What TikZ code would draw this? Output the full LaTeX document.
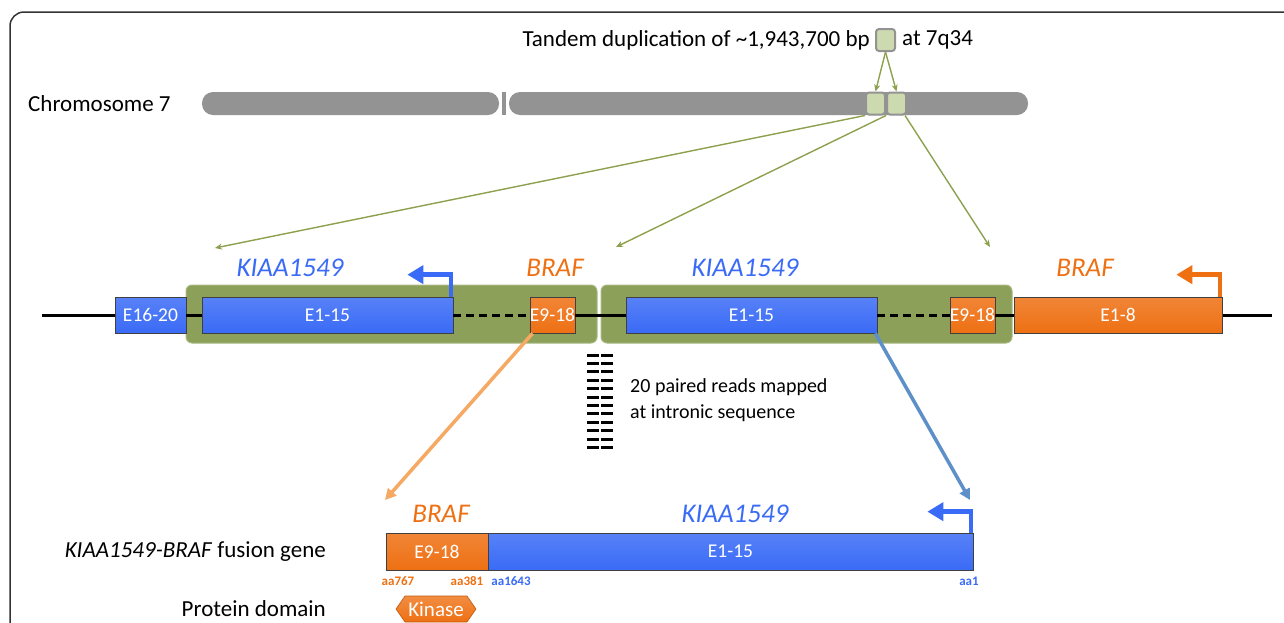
\documentclass[tikz,border=0pt]{standalone}
\usepackage{fontspec}
\setmainfont{Carlito}
\usetikzlibrary{arrows.meta}

\definecolor{geneblue}{HTML}{3A6BF6}
\definecolor{geneorange}{HTML}{EE7013}
\definecolor{dupgreen}{HTML}{8DA05A}
\definecolor{lightgreen}{HTML}{CDDAAF}
\definecolor{chromgray}{HTML}{939393}
\definecolor{arrowgreen}{HTML}{8CA04E}
\definecolor{fadeorange}{HTML}{F5A962}
\definecolor{fadeblue}{HTML}{5D90C8}

\tikzset{
  exon/.style={draw=black!75, line width=0.7pt, minimum height=36pt, inner sep=0pt,
    text=white, font=\fontsize{19.5}{19.5}\selectfont},
  bluex/.style={exon, top color=geneblue!85!white, bottom color=geneblue},
  orangex/.style={exon, top color=geneorange!85!white, bottom color=geneorange},
  dupbox/.style={fill=dupgreen, draw=dupgreen!75!white, line width=1pt,
    rounded corners=6pt, minimum height=58pt, inner sep=0pt},
  band/.style={fill=lightgreen, draw=gray!85, line width=2pt, rounded corners=3pt,
    minimum width=19pt, minimum height=22pt, inner sep=0pt},
  arm/.style={fill=chromgray, rounded corners=11pt},
  maintext/.style={font=\fontsize{23}{26}\selectfont, inner sep=0pt},
  readtext/.style={font=\fontsize{20}{24}\selectfont, inner sep=0pt, align=left},
  bluelabel/.style={font=\fontsize{27}{30}\selectfont\itshape, text=geneblue, inner sep=0pt},
  orangelabel/.style={font=\fontsize{27}{30}\selectfont\itshape, text=geneorange, inner sep=0pt},
  aablue/.style={font=\fontsize{13}{13}\selectfont\bfseries, text=geneblue, inner sep=0pt},
  aaorange/.style={font=\fontsize{13}{13}\selectfont\bfseries, text=geneorange, inner sep=0pt},
  greenarrow/.style={draw=arrowgreen, line width=1.4pt, -{Stealth[length=7pt, width=6pt]}},
  bigarrow/.style={line width=3.5pt, -{Triangle[length=11pt, width=11pt]}},
  bentarrow/.style={line width=4.5pt, -{Triangle[length=16pt, width=18pt]}},
  readpair/.style={line width=3pt, black},
  trackline/.style={line width=3pt, black},
}

\begin{document}
\begin{tikzpicture}[x=1pt, y=-1pt]
  \useasboundingbox (0,0) rectangle (1284,622);
  \clip (0,0) rectangle (1284,622);

  % outer frame
  \draw[line width=1.5pt, black!80, rounded corners=14pt] (10,640) |- (1300,12);

  % chromosome 7 ideogram
  \node[maintext, anchor=west] (chrlabel) at (28,104) {Chromosome 7};
  \fill[arm] (202,92) rectangle (499,115);
  \fill[chromgray] (502,92) rectangle (506,115);
  \fill[arm] (509,92) rectangle (1028,115);
  \node[band] (c1) at (875.5,103.5) {};
  \node[band] (c2) at (896.5,103.5) {};

  % duplication legend
  \node[band] (lg) at (885.5,40) {};
  \node[maintext, anchor=east] (duptext) at ([xshift=-5pt]lg.west) {Tandem duplication of \textasciitilde 1,943,700 bp};
  \node[maintext, anchor=west] (bandtext) at ([xshift=6pt]lg.east) {at 7q34};
  \draw[greenarrow] (lg.south) -- (c1.north);
  \draw[greenarrow] (lg.south) -- (c2.north);

  % gene track
  \coordinate (trackL) at (42,315);
  \coordinate (trackR) at (1272,315);
  \draw[trackline] (trackL) -- (trackR);

  \node[dupbox, minimum width=411pt] (gA) at (391.5,314) {};
  \node[dupbox, minimum width=411pt] (gB) at (806.5,314) {};

  \node[bluex, minimum width=71pt] (e1620) at (150.5,315) {E16-20};
  \node[bluex, minimum width=251pt] (k1) at (327.5,315) {E1-15};
  \node[orangex, minimum width=45pt] (b1) at (552.5,315) {E9-18};
  \node[bluex, minimum width=251pt] (k2) at (751.5,315) {E1-15};
  \node[orangex, minimum width=45pt] (b2) at (972.5,315) {E9-18};
  \node[orangex, minimum width=208pt] (b3) at (1118,315) {E1-8};

  \draw[trackline] (e1620.east) -- (k1.west);
  \draw[trackline, dash pattern=on 8pt off 5pt] (k1.east) -- (b1.west);
  \draw[trackline] (b1.east) -- (k2.west);
  \draw[trackline, dash pattern=on 8pt off 5pt] (k2.east) -- (b2.west);
  \draw[trackline] (b2.east) -- (b3.west);

  \node[bluelabel] (lk1) at (290,268) {KIAA1549};
  \node[orangelabel] (lb1) at (555,268) {BRAF};
  \node[bluelabel] (lk2) at (745,268) {KIAA1549};
  \node[orangelabel] (lb2) at (1085,268) {BRAF};

  \draw[bentarrow, geneblue] ([xshift=-2.5pt]k1.north east) |- ([xshift=-46pt, yshift=22pt]k1.north east);
  \draw[bentarrow, geneorange] ([xshift=-2.5pt]b3.north east) |- ([xshift=-46pt, yshift=22pt]b3.north east);

  % duplicated segment mapped onto the track
  \coordinate (t1) at (215,248);
  \coordinate (t2) at (616,247);
  \coordinate (t3) at (990,247);
  \draw[greenarrow] (c1.south west) -- (t1);
  \draw[greenarrow] (c1.south east) -- (t2);
  \draw[greenarrow] ([xshift=-2pt]c2.south east) -- (t3);

  % paired reads at the breakpoint
  \foreach \i in {0,...,11} {
    \draw[readpair] (587,355+\i*8.4) -- (599,355+\i*8.4);
    \draw[readpair] (601,355+\i*8.4) -- (613,355+\i*8.4);
  }
  \node[readtext, anchor=west] (reads) at (630,400) {20 paired reads mapped\\[2pt]at intronic sequence};

  % fusion gene
  \node[orangex, minimum width=102pt, minimum height=37pt] (fb) at (437,551.5) {E9-18};
  \node[bluex, minimum width=485pt, minimum height=37pt] (fk) at (730.5,551.5) {E1-15};
  \node[orangelabel] (lfb) at (441,514) {BRAF};
  \node[bluelabel] (lfk) at (735,514) {KIAA1549};
  \draw[bentarrow, geneblue] ([xshift=-2.5pt]fk.north east) |- ([xshift=-46pt, yshift=21pt]fk.north east);

  \coordinate (fuseL) at (385,500);
  \coordinate (fuseR) at (970,500);
  \draw[bigarrow, fadeorange] ([xshift=3pt]b1.south west) -- (fuseL);
  \draw[bigarrow, fadeblue] ([xshift=-2pt]k2.south east) -- (fuseR);

  \node[aaorange] (aa767) at (398,581) {aa767};
  \node[aaorange] (aa381) at (467,581) {aa381};
  \node[aablue] (aa1643) at (511,581) {aa1643};
  \node[aablue] (aa1) at (969,581) {aa1};

  \node[maintext, anchor=east] (fuslabel) at (326,552) {\textit{KIAA1549-BRAF} fusion gene};
  \node[maintext, anchor=east] (domlabel) at (326,609) {Protein domain};

  % kinase domain
  \shade[top color=geneorange!80!white, bottom color=geneorange, draw=geneorange!80!black, line width=0.6pt]
    (396,609) -- (405,596) -- (467,596) -- (476,609) -- (467,622) -- (405,622) -- cycle;
  \node[font=\fontsize{21}{21}\selectfont, text=white, inner sep=0pt] (kinase) at (436,609) {Kinase};
\end{tikzpicture}
\end{document}
